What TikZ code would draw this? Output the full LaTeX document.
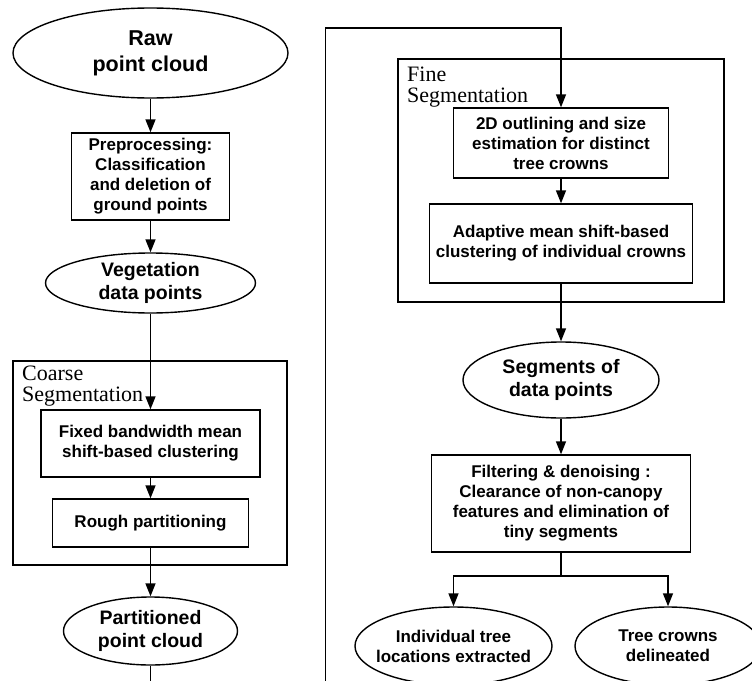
\documentclass[tikz,border=0pt]{standalone}
\usepackage{fontspec}
\setmainfont{Liberation Serif}
\setsansfont{Liberation Sans}
\usetikzlibrary{arrows.meta,shapes.geometric}
\tikzset{
  ln/.style={line width=1.4pt, draw=black},
  arr/.style={ln, -{Triangle[length=13pt,width=10pt]}},
  txt/.style={font=\sffamily\bfseries\fontsize{17}{20}\selectfont, align=center},
  bigtxt/.style={font=\sffamily\bfseries\fontsize{19.5}{23}\selectfont, align=center},
  rawtxt/.style={font=\sffamily\bfseries\fontsize{21.5}{26}\selectfont, align=center},
  stepbox/.style={rectangle, ln, inner sep=0pt, txt},
  oval/.style={ellipse, ln, inner sep=0pt},
  frame/.style={rectangle, draw=black, line width=2.8pt, inner sep=0pt},
  frametxt/.style={font=\rmfamily\fontsize{22}{21}\selectfont, align=left, inner sep=0pt, anchor=north west}
}
\begin{document}
\begin{tikzpicture}[x=1pt,y=-1pt]
\useasboundingbox (0,0) rectangle (752,680);
\clip (0,0) rectangle (752,680);
\fill[white] (0,0) rectangle (752,680);

% frames
\node[frame, minimum width=274pt, minimum height=204pt] (coarse) at (150,463) {};
\node[frame, minimum width=326pt, minimum height=243pt] (fine) at (561,180.5) {};
\node[frametxt] (coarselbl) at (22,366) {Coarse\\Segmentation};
\node[frametxt] (finelbl) at (407,67) {Fine\\Segmentation};

% left column
\node[oval, minimum width=275pt, minimum height=90pt,
      label={[rawtxt]center:{Raw\\point cloud}}] (raw) at (150.5,53) {};
\node[stepbox, minimum width=158pt, minimum height=87pt] (pre) at (150.5,176.5)
  {Preprocessing:\\Classification\\and deletion of\\ground points};
\node[oval, minimum width=210pt, minimum height=60pt,
      label={[bigtxt]center:{Vegetation\\data points}}] (veg) at (150.5,283) {};
\node[stepbox, minimum width=219pt, minimum height=67pt] (fixed) at (150.5,443.5)
  {Fixed bandwidth mean\\shift-based clustering};
\node[stepbox, minimum width=196pt, minimum height=48pt] (rough) at (150.5,523)
  {Rough partitioning};
\node[oval, minimum width=174pt, minimum height=68pt,
      label={[bigtxt]center:{Partitioned\\point cloud}}] (part) at (150.5,631) {};

% right column
\node[stepbox, minimum width=215pt, minimum height=70pt] (twod) at (561,143)
  {2D outlining and size\\estimation for distinct\\tree crowns};
\node[stepbox, minimum width=263pt, minimum height=79pt] (adapt) at (561,243.5)
  {Adaptive mean shift-based\\clustering of individual crowns};
\node[oval, minimum width=196pt, minimum height=76pt,
      label={[bigtxt]center:{Segments of\\data points}}] (segs) at (561,380) {};
\node[stepbox, minimum width=259pt, minimum height=97pt] (filt) at (561,503.5)
  {Filtering \& denoising :\\Clearance of non-canopy\\features and elimination of\\tiny segments};
\node[oval, minimum width=197pt, minimum height=78pt,
      label={[txt]center:{Individual tree\\locations extracted}}] (loc) at (453.5,646) {};
\node[oval, minimum width=186pt, minimum height=78pt,
      label={[txt]center:{Tree crowns\\delineated}}] (crowns) at (668,646) {};

% connectors
\coordinate (botleft) at (150.5,720);
\coordinate (botright) at (325.5,720);
\coordinate (topleft) at (325.5,28);
\coordinate (split) at (561,576);

\draw[arr] (raw) -- (pre);
\draw[arr] (pre) -- (veg);
\draw[arr] (veg) -- (fixed);
\draw[arr] (fixed) -- (rough);
\draw[arr] (rough) -- (part);
\draw[arr] (part.south) -- (botleft) -- (botright) -- (topleft) -| (twod.north);
\draw[arr] (twod) -- (adapt);
\draw[arr] (adapt) -- (segs);
\draw[arr] (segs) -- (filt);
\draw[ln] (filt.south) -- (split);
\draw[arr] (split) -| (loc.north);
\draw[arr] (split) -| (crowns.north);
\end{tikzpicture}
\end{document}
